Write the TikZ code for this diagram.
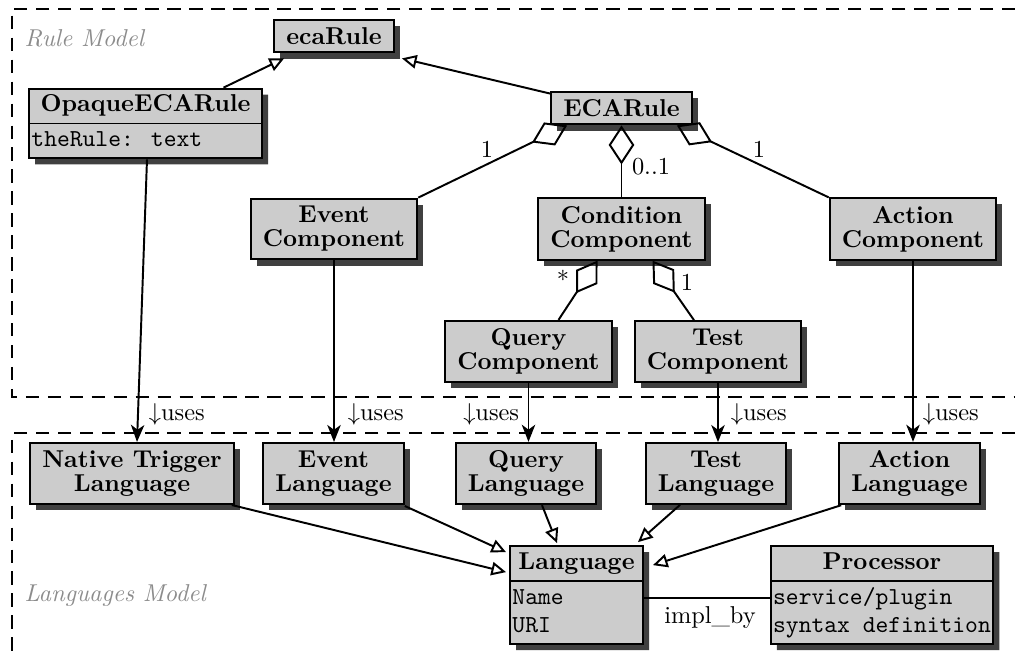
\documentclass[tikz,border=0pt]{standalone}
\usepackage{amsmath,amssymb}
\usepackage{tikz}
\usetikzlibrary{positioning,calc,shadows,shapes.multipart,arrows.meta}

\newcommand{\attrtxt}[1]{\strut\textmd{\texttt{#1}}}

\begin{document}
\begin{tikzpicture}[x=0.41pt,y=-0.41pt,
    cls/.style={draw,thick,fill=black!20,align=center,
      font=\bfseries\fontsize{10}{9.8}\selectfont,inner xsep=5pt,inner ysep=3.2pt,
      drop shadow={shadow xshift=2.5pt,shadow yshift=-2.5pt,fill=black!75,opacity=1}},
    attcls/.style={cls,rectangle split,rectangle split parts=2,align=left,
      rectangle split part align={center,left},
      font=\bfseries\fontsize{10}{11.5}\selectfont,inner xsep=1pt,inner ysep=1pt},
    gen/.style={thick,-{Triangle[open,length=6pt,width=5.5pt]}},
    agg/.style={thick,{Diamond[open,length=16pt,width=10.5pt]}-},
    uses/.style={thick,-{Stealth[length=7pt,width=5.5pt,inset=2pt]}},
    area/.style={thick,dash pattern=on 5.5pt off 3.5pt},
    areaname/.style={font=\itshape,text=black!45,anchor=west}]

  \useasboundingbox (0,0) rectangle (1015,655);

  % the two packages
  \draw[area] (1015,9) -- (12,9) -- (12,397) -- (1015,397);
  \draw[area] (1015,433) -- (12,433) -- (12,655);
  \node[areaname] (rulemodel) at (16,38) {Rule Model};
  \node[areaname] (langmodel) at (16,596) {Languages Model};

  % rule model
  \node[cls] (ecarule) at (334,36) {ecaRule};
  \node[attcls,minimum width=95.5pt] (opaque) at (145.5,123.5)
    {\strut OpaqueECARule\nodepart{two}\attrtxt{theRule: text}};
  \node[cls] (ecaR) at (621.5,108) {ECARule};
  \node[cls] (eventC) at (334,229) {Event\\Component};
  \node[cls] (condC) at (621.5,229) {Condition\\Component};
  \node[cls] (actionC) at (913,229) {Action\\Component};
  \node[cls] (queryC) at (528.5,351.5) {Query\\Component};
  \node[cls] (testC) at (718,351.5) {Test\\Component};

  \draw[gen] ($(opaque.north)+(78,0)$) -- ($(ecarule.south west)+(11,5)$);
  \draw[gen] ($(ecaR.north west)+(0,3)$) -- ($(ecarule.south east)+(7,5)$);

  \draw[agg] ($(ecaR.south west)+(17,0)$) -- (eventC.north east);
  \draw[agg] (ecaR.south) -- (condC.north);
  \draw[agg] ($(ecaR.south east)+(-16,0)$) -- (actionC.north west);
  \draw[agg] ($(condC.south)+(-24,0)$) -- ($(queryC.north)+(30,0)$);
  \draw[agg] ($(condC.south)+(31,0)$) -- ($(testC.north)+(-24,0)$);
  \node (mEvent) at (487,149) {1};
  \node (mCond) at (651,167) {0..1};
  \node (mAction) at (759,149) {1};
  \node (mQuery) at (563,279) {*};
  \node (mTest) at (687,282) {1};

  % languages model
  \node[cls] (nativeL) at (132,473.5) {Native Trigger\\Language};
  \node[cls] (eventL) at (333.5,473.5) {Event\\Language};
  \node[cls] (queryL) at (526,473.5) {Query\\Language};
  \node[cls] (testL) at (716,473.5) {Test\\Language};
  \node[cls] (actionL) at (909.5,473.5) {Action\\Language};
  \node[attcls,minimum width=54.5pt] (lang) at (576.5,595)
    {\strut Language\nodepart{two}\attrtxt{Name}\\\attrtxt{URI}};
  \node[attcls] (proc) at (882,595)
    {\strut Processor\nodepart{two}\attrtxt{service/plugin}\\\attrtxt{syntax definition}};

  \draw[gen] ($(nativeL.south east)+(-3,0)$) -- ($(lang.north west)+(-3,27)$);
  \draw[gen] ($(eventL.south east)+(0,1)$) -- ($(lang.north west)+(-3,7)$);
  \draw[gen] ($(queryL.south)+(16,0)$) -- ($(lang.north west)+(48,-2)$);
  \draw[gen] ($(testL.south)+(-36,0)$) -- ($(lang.north east)+(-6,-3)$);
  \draw[gen] ($(actionL.south west)+(3,0)$) -- ($(lang.north east)+(9,20)$);

  \draw[thick] ($(lang.east)+(0,3)$) -- ($(proc.west)+(0,3)$);
  \node (implby) at (710,618) {impl\_by};

  % uses
  \draw[uses] ($(opaque.south)+(1.5,0)$) -- ($(nativeL.north)+(5,0)$);
  \draw[uses] (eventC.south) -- (eventC.south |- eventL.north);
  \draw[uses] (queryC.south) -- (queryC.south |- queryL.north);
  \draw[uses] (testC.south) -- (testC.south |- testL.north);
  \draw[uses] (actionC.south) -- (actionC.south |- actionL.north);
  \node[anchor=west,inner sep=1pt] (uNative) at (146,414) {$\downarrow$uses};
  \node[anchor=west,inner sep=1pt] (uEvent) at (345,414) {$\downarrow$uses};
  \node[anchor=east,inner sep=1pt] (uQuery) at (522,414) {$\downarrow$uses};
  \node[anchor=west,inner sep=1pt] (uTest) at (728,414) {$\downarrow$uses};
  \node[anchor=west,inner sep=1pt] (uAction) at (920,414) {$\downarrow$uses};
\end{tikzpicture}
\end{document}
